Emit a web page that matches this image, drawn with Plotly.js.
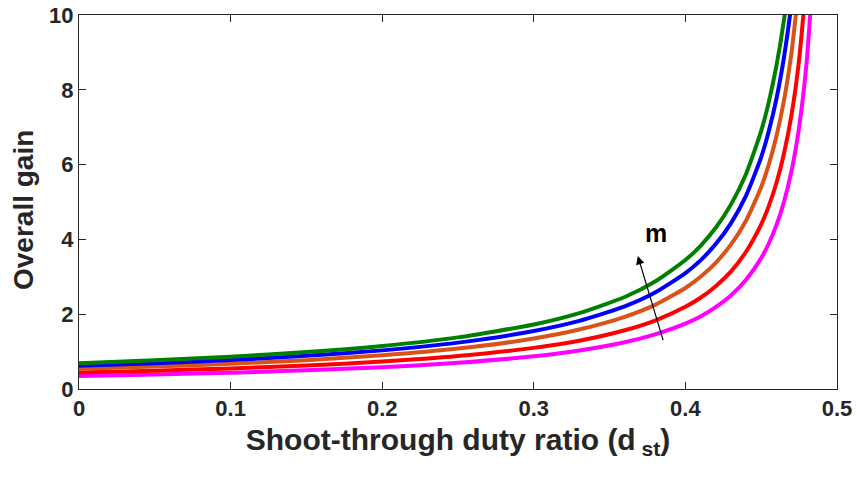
<!DOCTYPE html>
<html>
<head>
<meta charset="utf-8">
<script src="https://cdn.plot.ly/plotly-3.0.1.min.js"></script>
<style>html,body{margin:0;padding:0;background:#fff;}#chart{width:857px;height:477px;}</style>
</head>
<body>
<div id="chart"></div>
<script>
const dst = [0, 0.05, 0.1, 0.15, 0.2, 0.25, 0.3, 0.33, 0.36, 0.38, 0.40, 0.41, 0.42, 0.43, 0.44, 0.45, 0.455, 0.46, 0.465, 0.47, 0.475, 0.48, 0.485];
const gainGreen   = [0.69, 0.767, 0.863, 0.986, 1.15, 1.38, 1.725, 2.03, 2.46, 2.875, 3.45, 3.83, 4.31, 4.93, 5.75, 6.9, 7.67, 8.63, 9.86, 11.5];
const gainBlue    = [0.62, 0.689, 0.775, 0.886, 1.033, 1.24, 1.55, 1.82, 2.21, 2.58, 3.1, 3.44, 3.875, 4.43, 5.17, 6.2, 6.89, 7.75, 8.86, 10.33, 12.4];
const gainOrange  = [0.54, 0.6, 0.675, 0.771, 0.9, 1.08, 1.35, 1.59, 1.93, 2.25, 2.7, 3.0, 3.375, 3.86, 4.5, 5.4, 6.0, 6.75, 7.71, 9.0, 10.8];
const gainRed     = [0.44, 0.489, 0.55, 0.629, 0.733, 0.88, 1.1, 1.29, 1.57, 1.83, 2.2, 2.44, 2.75, 3.14, 3.67, 4.4, 4.89, 5.5, 6.29, 7.33, 8.8, 11.0];
const gainMagenta = [0.35, 0.389, 0.4375, 0.5, 0.583, 0.7, 0.875, 1.03, 1.25, 1.46, 1.75, 1.94, 2.19, 2.5, 2.92, 3.5, 3.89, 4.375, 5.0, 5.83, 7.0, 8.75, 11.67];
const xTicks = [0, 0.1, 0.2, 0.3, 0.4, 0.5];
const xTickText = ['0', '0.1', '0.2', '0.3', '0.4', '0.5'];
const yTicks = [0, 2, 4, 6, 8, 10];
const yTickText = ['0', '2', '4', '6', '8', '10'];

const series = [
  {y: gainMagenta, color: '#FF00FF'},
  {y: gainRed, color: '#FF0000'},
  {y: gainOrange, color: '#D95319'},
  {y: gainBlue, color: '#0000FF'},
  {y: gainGreen, color: '#008000'}
];
const traces = series.map(s => ({
  type: 'scatter', mode: 'lines',
  x: dst.slice(0, s.y.length), y: s.y,
  line: {color: s.color, width: 4, shape: 'spline', smoothing: 0.6},
  hoverinfo: 'skip', showlegend: false
}));

const fontFam = '"Liberation Sans", Arial, sans-serif';
const axisCommon = {
  showgrid: false, zeroline: false, showline: true, mirror: 'ticks',
  linecolor: '#262626', linewidth: 1,
  ticks: 'inside', ticklen: 7, tickcolor: '#262626', tickwidth: 1,
  tickfont: {family: fontFam, size: 22, color: '#262626', weight: 'bold'},
  tickmode: 'array'
};
const layout = {
  width: 857, height: 477,
  margin: {l: 79, r: 20, t: 15, b: 88},
  paper_bgcolor: '#fff', plot_bgcolor: '#fff',
  xaxis: Object.assign({}, axisCommon, {
    range: [0, 0.5], tickvals: xTicks, ticktext: xTickText,
    title: {text: '<b>Shoot-through duty ratio (d<sub> st</sub>)</b>', font: {family: fontFam, size: 30, color: '#262626'}, standoff: 8}
  }),
  yaxis: Object.assign({}, axisCommon, {
    range: [0, 10], tickvals: yTicks, ticktext: yTickText
  }),
  annotations: [
    {x: -0.0739, y: 0.4786, xref: 'paper', yref: 'paper', xanchor: 'center', yanchor: 'middle',
     text: '<b>Overall gain</b>', textangle: -90, showarrow: false,
     font: {family: fontFam, size: 28, color: '#262626'}},
    {x: 0.3686, y: 3.556, ax: 0.3856, ay: 1.265, xref: 'x', yref: 'y', axref: 'x', ayref: 'y',
     text: '', showarrow: true, arrowhead: 2, arrowsize: 1.4, arrowwidth: 1.2, arrowcolor: '#000'},
    {x: 0.3803, y: 4.16, xref: 'x', yref: 'y', text: '<b>m</b>', showarrow: false,
     font: {family: fontFam, size: 25, color: '#000'}}
  ]
};
Plotly.newPlot('chart', traces, layout, {displayModeBar: false, staticPlot: true});
</script>
</body>
</html>
